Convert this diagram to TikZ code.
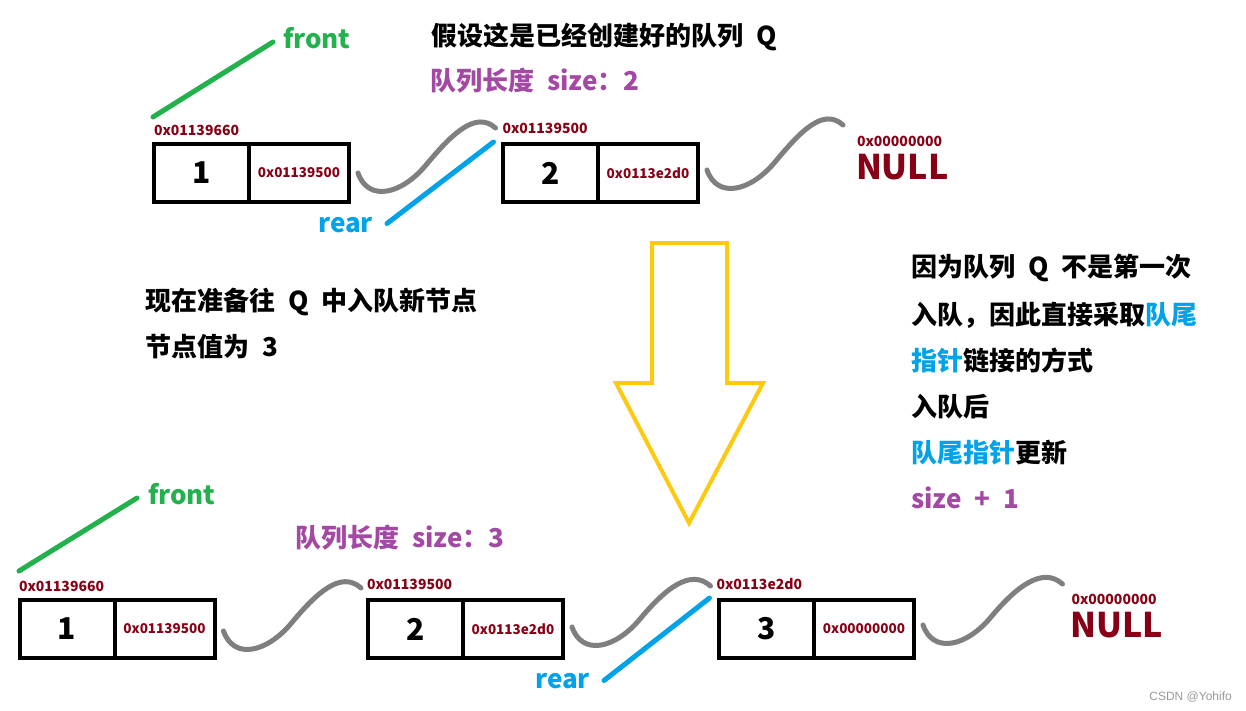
\documentclass[tikz,border=0pt]{standalone}
\usepackage{fontspec}
\setmainfont{Noto Sans CJK SC}
\newfontfamily\wmfont{Liberation Sans}
\usetikzlibrary{calc}
\definecolor{hexred}{HTML}{880015}
\definecolor{pgreen}{HTML}{22B14C}
\definecolor{pblue}{HTML}{00A2E8}
\definecolor{ppurple}{HTML}{A349A4}
\definecolor{pgold}{HTML}{FFC90E}
\definecolor{pgray}{HTML}{7F7F7F}
\newcommand\fsz[1]{\fontsize{#1}{#1}\selectfont}
\newcommand\gap{\hspace{0.5em}}
\begin{document}
\begin{tikzpicture}[x=1pt,y=-1pt,
  lcell/.style={draw, line width=4pt, minimum width=95pt, minimum height=58pt,
    inner sep=0pt, outer sep=0pt, font=\bfseries\fsz{30}},
  rcell/.style={lcell, minimum width=100pt, anchor=west, text=hexred, font=\bfseries\fsz{13.5}},
  addr/.style={anchor=west, inner sep=0pt, outer sep=0pt, text=hexred, font=\bfseries\fsz{14}},
  nulltxt/.style={anchor=west, inner sep=0pt, outer sep=0pt, text=hexred, font=\bfseries\fsz{34}},
  txt/.style={anchor=west, inner sep=0pt, outer sep=0pt, font=\bfseries\fsz{26}},
  link/.style={draw=pgray, line width=5pt, line cap=round},
  gptr/.style={draw=pgreen, line width=5pt, line cap=round},
  bptr/.style={draw=pblue, line width=5pt, line cap=round}]
\useasboundingbox (0,0) rectangle (1246,710);
\fill[white] (0,0) rectangle (1246,710);

% ---------- top row ----------
\node[txt] (title) at (431,37) {假设这是已经创建好的队列\gap Q};
\node[txt, text=ppurple] (size1) at (430,81) {队列长度\gap size：2};

\node[txt, text=pgreen] (fr1) at (283,38) {front};
\node[addr] (t1a) at (154,130) {0x01139660};
\node[lcell] (t1l) at (201.5,173) {1};
\node[rcell] (t1r) at (t1l.east) {0x01139500};

\node[addr] (t2a) at (502.5,128) {0x01139500};
\node[lcell] (t2l) at (550.5,173) {2};
\node[rcell] (t2r) at (t2l.east) {0x0113e2d0};

\node[addr] (n1a) at (857,141) {0x00000000};
\node[nulltxt] (n1) at (856,167.5) {NULL};

\node[txt, text=pblue, anchor=east] (rr1) at (373,225.5) {rear};

\coordinate (s1) at ($(t1r.east)+(9,0)$);
\coordinate (e1) at ($(t2a.west)+(-7,0)$);
\draw[link] (s1) .. controls +(10,29) and +(-25,30) .. ($(s1)+(68,-8)$)
  .. controls +(25,-30) and +(-20,-18) .. (e1);
\coordinate (s2) at ($(t2r.east)+(9,-3)$);
\coordinate (e2) at ($(n1a.west)+(-14,-16)$);
\draw[link] (s2) .. controls +(10,29) and +(-25,30) .. ($(s2)+(68,-8)$)
  .. controls +(25,-30) and +(-20,-18) .. (e2);

\draw[gptr] ($(t1a.west)+(-1,-13)$) -- ($(fr1.west)+(-10,4)$);
\draw[bptr] ($(rr1.east)+(14,-2)$) -- ($(t2a.west)+(-9,14)$);

% ---------- middle ----------
\draw[pgold, line width=4pt] (652,243) -- (727,243) -- (727,383) -- (763,383)
  -- (689,523) -- (616,383) -- (652,383) -- cycle;

\node[txt] (m1) at (145,302) {现在准备往\gap Q\gap 中入队新节点};
\node[txt] (m2) at (145,347) {节点值为\gap 3};

\node[txt] (r1) at (911,268) {因为队列\gap Q\gap 不是第一次};
\node[txt] (r2) at (911,315) {入队，因此直接采取\textcolor{pblue}{队尾}};
\node[txt] (r3) at (911,360) {\textcolor{pblue}{指针}链接的方式};
\node[txt] (r4) at (911,407) {入队后};
\node[txt] (r5) at (911,453) {\textcolor{pblue}{队尾指针}更新};
\node[txt, text=ppurple] (r6) at (911,498) {size\gap +\gap 1};

% ---------- bottom row ----------
\node[txt, text=pgreen] (fr2) at (148,494) {front};
\node[txt, text=ppurple] (size2) at (295,538) {队列长度\gap size：3};

\node[addr] (b1a) at (19,586) {0x01139660};
\node[lcell] (b1l) at (67,629) {1};
\node[rcell] (b1r) at (b1l.east) {0x01139500};

\node[addr] (b2a) at (367,584) {0x01139500};
\node[lcell] (b2l) at (415.5,629) {2};
\node[rcell] (b2r) at (b2l.east) {0x0113e2d0};

\node[addr] (b3a) at (716.5,584) {0x0113e2d0};
\node[lcell] (b3l) at (766.5,629) {3};
\node[rcell] (b3r) at (b3l.east) {0x00000000};

\node[addr] (n2a) at (1071.5,599) {0x00000000};
\node[nulltxt] (n2) at (1070.5,625) {NULL};

\node[txt, text=pblue, anchor=east] (rr2) at (590,681.5) {rear};

\coordinate (s3) at ($(b1r.east)+(9,2)$);
\coordinate (e3) at ($(b2a.west)+(-6,4)$);
\draw[link] (s3) .. controls +(10,29) and +(-25,30) .. ($(s3)+(68,-8)$)
  .. controls +(25,-30) and +(-20,-18) .. (e3);
\coordinate (s4) at ($(b2r.east)+(9,-2)$);
\coordinate (e4) at ($(b3a.west)+(-6,2)$);
\draw[link] (s4) .. controls +(10,29) and +(-25,30) .. ($(s4)+(68,-8)$)
  .. controls +(25,-30) and +(-20,-18) .. (e4);
\coordinate (s5) at ($(b3r.east)+(9,-4)$);
\coordinate (e5) at ($(n2a.west)+(-9,-15)$);
\draw[link] (s5) .. controls +(10,29) and +(-25,30) .. ($(s5)+(68,-8)$)
  .. controls +(25,-30) and +(-20,-18) .. (e5);

\draw[gptr] ($(b1a.west)+(0,-15)$) -- ($(fr2.west)+(-11,4)$);
\draw[bptr] ($(rr2.east)+(14,-1)$) -- ($(b3a.west)+(-7,14)$);

\node[anchor=east, inner sep=0pt, text=black!40, font=\wmfont\fsz{12}] (wm) at (1232,697) {CSDN @Yohifo};
\end{tikzpicture}
\end{document}
